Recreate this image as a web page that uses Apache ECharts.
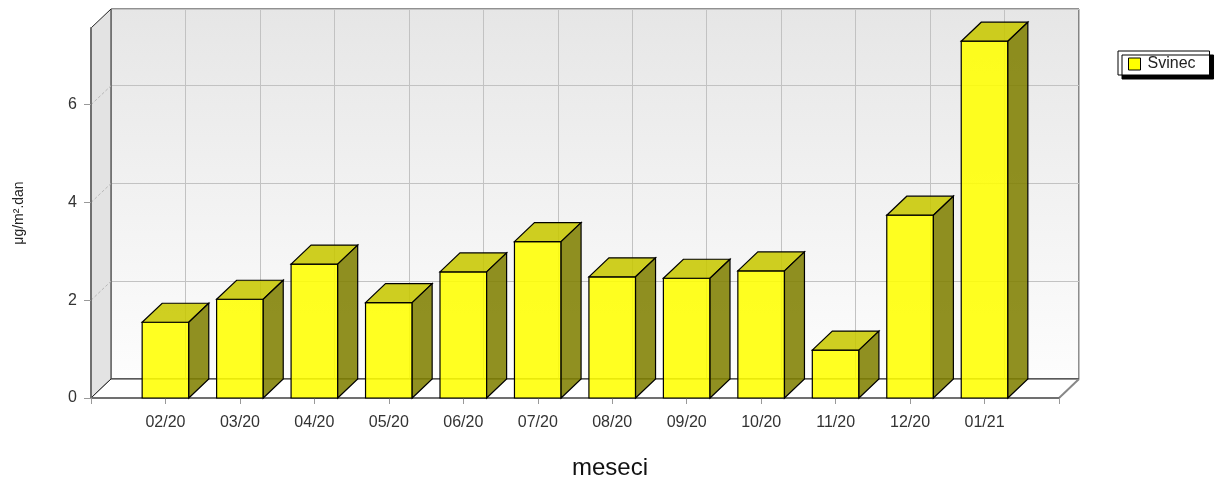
<!DOCTYPE html>
<html>
<head>
<meta charset="utf-8">
<script src="https://cdn.jsdelivr.net/npm/echarts@6/dist/echarts.min.js"></script>
<style>
html,body{margin:0;padding:0;background:#fff;}
#chart{width:1216px;height:483px;}
</style>
</head>
<body>
<div id="chart"></div>
<script>
// ---- data ----
const categories = ['02/20','03/20','04/20','05/20','06/20','07/20','08/20','09/20','10/20','11/20','12/20','01/21'];
const svinec = [1.55, 2.02, 2.74, 1.95, 2.58, 3.20, 2.48, 2.45, 2.60, 0.98, 3.74, 7.30];
const yTicks = [0, 2, 4, 6];
const yMax = 7.57;
const seriesName = 'Svinec';
const xAxisTitle = 'meseci';
const yAxisTitle = 'μg/m².dan';

// ---- layout / style ----
const DX = 20, DY = 19;
const BAR_RATIO = 0.626;
const FONT = '"Liberation Sans", Arial, sans-serif';
const slots = [''].concat(categories, ['']);
const lastSlot = slots.length - 1;

const chart = echarts.init(document.getElementById('chart'), null, {renderer: 'canvas'});

function renderFrame(params, api) {
  const bl = api.coord([0, 0]);
  const br = api.coord([lastSlot, 0]);
  const tl = api.coord([0, yMax]);
  const children = [];
  children.push({
    type: 'polygon',
    shape: {points: [tl, [tl[0] + DX, tl[1] - DY], [bl[0] + DX, bl[1] - DY], bl]},
    style: {fill: '#e3e3e3', stroke: '#222', lineWidth: 1}
  });
  children.push({
    type: 'polygon',
    shape: {points: [bl, br, [br[0] + DX, br[1] - DY], [bl[0] + DX, bl[1] - DY]]},
    style: {fill: '#ffffff', stroke: '#222', lineWidth: 1}
  });
  children.push({
    type: 'line',
    shape: {x1: br[0], y1: br[1], x2: br[0] + DX, y2: br[1] - DY},
    style: {stroke: '#888', lineWidth: 2}
  });
  yTicks.forEach(function (t) {
    if (t === 0) return;
    const p = api.coord([0, t]);
    children.push({
      type: 'line',
      shape: {x1: p[0], y1: p[1], x2: p[0] + DX, y2: p[1] - DY},
      style: {stroke: '#b8b8b8', lineWidth: 1, lineDash: [3, 2]}
    });
  });
  return {type: 'group', children: children};
}

function renderBar(params, api) {
  const xi = api.value(0), v = api.value(1);
  const base = api.coord([xi, 0]);
  const top = api.coord([xi, v]);
  const w = api.size([1, 0])[0] * BAR_RATIO;
  const x0 = base[0] - w / 2, x1 = base[0] + w / 2;
  const yb = base[1], yt = top[1];
  const stroke = '#000';
  return {
    type: 'group',
    children: [
      {type: 'polygon', shape: {points: [[x0, yb], [x1, yb], [x1, yt], [x0, yt]]},
        style: {fill: 'rgba(255,255,0,0.87)', stroke: stroke, lineWidth: 1.2}},
      {type: 'polygon', shape: {points: [[x0, yt], [x1, yt], [x1 + DX, yt - DY], [x0 + DX, yt - DY]]},
        style: {fill: 'rgba(200,200,0,0.87)', stroke: stroke, lineWidth: 1.2}},
      {type: 'polygon', shape: {points: [[x1, yt], [x1 + DX, yt - DY], [x1 + DX, yb - DY], [x1, yb]]},
        style: {fill: 'rgba(128,128,0,0.87)', stroke: stroke, lineWidth: 1.2}}
    ]
  };
}

const option = {
  backgroundColor: '#ffffff',
  animation: false,
  grid: [
    {left: 91, top: 28, right: 157, bottom: 85, containLabel: false, outerBoundsMode: 'none'},
    {left: 91 + DX, top: 28 - DY, right: 157 - DX, bottom: 85 + DY, containLabel: false, outerBoundsMode: 'none',
      show: true, borderColor: '#222', borderWidth: 1,
      backgroundColor: new echarts.graphic.LinearGradient(0, 0, 0, 1, [
        {offset: 0, color: '#e6e6e6'}, {offset: 1, color: '#fdfdfd'}
      ])}
  ],
  xAxis: [
    {gridIndex: 0, type: 'category', data: slots, boundaryGap: false, z: 2,
      axisLine: {show: true, lineStyle: {color: '#707070', width: 2}},
      axisTick: {show: true, interval: 0, length: 6, lineStyle: {color: '#999'}},
      axisLabel: {interval: 0, margin: 17, color: '#333', fontSize: 16, fontFamily: FONT},
      splitLine: {show: false}},
    {gridIndex: 1, type: 'category', data: slots, boundaryGap: false, z: 0,
      axisLine: {show: false}, axisTick: {show: false}, axisLabel: {show: false},
      splitLine: {show: true, interval: 0, lineStyle: {color: '#c2c2c2', width: 1}}}
  ],
  yAxis: [
    {gridIndex: 0, type: 'value', min: 0, max: yMax, interval: 2, z: 2,
      name: yAxisTitle, nameLocation: 'middle', nameGap: 65, nameRotate: 90,
      nameTextStyle: {fontSize: 14, color: '#222', fontFamily: FONT},
      axisLine: {show: true, lineStyle: {color: '#707070', width: 2}},
      axisTick: {show: true, length: 7, customValues: yTicks, lineStyle: {color: '#999'}},
      axisLabel: {margin: 14, color: '#333', fontSize: 16, fontFamily: FONT, customValues: yTicks},
      splitLine: {show: false}},
    {gridIndex: 1, type: 'value', min: 0, max: yMax, interval: 2, z: 0,
      axisLine: {show: false}, axisTick: {show: false}, axisLabel: {show: false},
      splitLine: {show: true, lineStyle: {color: '#c2c2c2', width: 1}}}
  ],
  legend: {
    left: 1118, top: 51, orient: 'vertical',
    padding: [5, 14, 3, 10],
    backgroundColor: '#fff', borderColor: '#000', borderWidth: 1,
    shadowColor: '#000', shadowBlur: 0, shadowOffsetX: 4, shadowOffsetY: 4,
    itemWidth: 12, itemHeight: 12, itemGap: 5,
    textStyle: {fontSize: 16, color: '#222', fontFamily: FONT, padding: [0, 0, 0, 2]},
    data: [{name: seriesName, icon: 'rect', itemStyle: {color: '#ffff00', borderColor: '#000', borderWidth: 1}}]
  },
  graphic: [
    {type: 'text', style: {text: xAxisTitle, x: 610, y: 468, textAlign: 'center', textVerticalAlign: 'middle',
      font: '24px ' + FONT, fill: '#111'}}
  ],
  series: [
    {type: 'custom', name: '_frame', xAxisIndex: 0, yAxisIndex: 0, z: 1, silent: true,
      renderItem: renderFrame, data: [[0, 0]], clip: false},
    {type: 'custom', name: seriesName, xAxisIndex: 0, yAxisIndex: 0, z: 3,
      itemStyle: {color: '#ffff00'},
      renderItem: renderBar, clip: false,
      data: svinec.map(function (v, i) { return [i + 1, v]; })}
  ]
};
chart.setOption(option);
</script>
</body>
</html>
